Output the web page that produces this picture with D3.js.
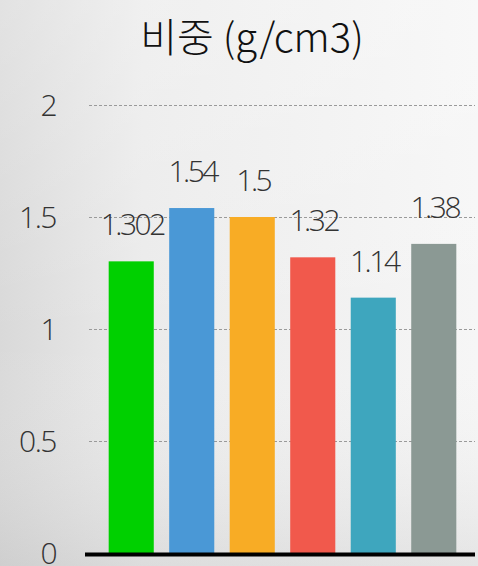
<!DOCTYPE html>
<html><head><meta charset="utf-8">
<script src="https://cdn.jsdelivr.net/npm/d3@7"></script>
<style>html,body{margin:0;padding:0;overflow:hidden;}svg{display:block;}</style>
</head><body><svg id="c" width="478" height="566"></svg>
<script>
const categories = ["A","B","C","D","E","F"];
const values = [1.302, 1.54, 1.5, 1.32, 1.14, 1.38];
const valueLabels = ["1.302","1.54","1.5","1.32","1.14","1.38"];
const colors = ["#00d000","#4a98d6","#f8ac25","#f1594c","#3ea6be","#8b9994"];
const yTicks = [0, 0.5, 1, 1.5, 2];
const title = "비중 (g/cm3)";

const svg = d3.select("#c");
const defs = svg.append("defs");
const g1 = defs.append("linearGradient").attr("id","bg").attr("x1","0").attr("x2","1").attr("y1","0").attr("y2","0");
g1.append("stop").attr("offset","0").attr("stop-color","#d9d9d9");
g1.append("stop").attr("offset","0.3").attr("stop-color","#ebebeb");
g1.append("stop").attr("offset","1").attr("stop-color","#f6f6f6");
const g2 = defs.append("linearGradient").attr("id","bg2").attr("x1","0").attr("x2","0").attr("y1","0").attr("y2","1");
g2.append("stop").attr("offset","0").attr("stop-color","#ffffff").attr("stop-opacity",0.25);
g2.append("stop").attr("offset","0.6").attr("stop-color","#ffffff").attr("stop-opacity",0);
g2.append("stop").attr("offset","1").attr("stop-color","#b0b0b0").attr("stop-opacity",0.25);
svg.append("rect").attr("width",478).attr("height",566).attr("fill","url(#bg)");
svg.append("rect").attr("width",478).attr("height",566).attr("fill","url(#bg2)");

const y = d3.scaleLinear().domain([0,2]).range([553,105]);
const x = d3.scaleBand().domain(categories).range([101,464]).paddingInner(0.255).paddingOuter(0.127);

const grid = svg.append("g").attr("transform","translate(89,0)")
  .call(d3.axisLeft(y).tickValues(yTicks).tickSize(-386).tickFormat(""));
grid.select(".domain").remove();
grid.selectAll(".tick line").attr("stroke","#9a9a9a").attr("stroke-dasharray","3,2").attr("stroke-width",1);

const yl = svg.append("g").attr("transform","translate(56,0)")
  .call(d3.axisLeft(y).tickValues(yTicks).tickSize(0).tickPadding(0).tickFormat(d3.format("")));
yl.select(".domain").remove();
yl.selectAll("text").attr("font-family","'Open Sans', sans-serif").attr("font-weight",300).attr("font-size",30).attr("letter-spacing","-1.5px")
  .attr("fill","#333").attr("dy","0.36em");

svg.append("g").selectAll("rect").data(values).join("rect")
  .attr("x",(d,i)=>x(categories[i])).attr("width",x.bandwidth())
  .attr("y",d=>y(d)).attr("height",d=>y(0)-y(d)).attr("fill",(d,i)=>colors[i]);

svg.append("line").attr("x1",85).attr("x2",475).attr("y1",y(0)+1.5).attr("y2",y(0)+1.5).attr("stroke","#000").attr("stroke-width",4);

svg.append("g").selectAll("text").data(values).join("text")
  .attr("x",(d,i)=>x(categories[i])+x.bandwidth()/2+1).attr("y",d=>y(d)-26)
  .attr("text-anchor","middle").attr("font-family","'Open Sans', sans-serif").attr("font-weight",300).attr("font-size",30)
  .attr("letter-spacing","-2.5px").attr("fill","#333").text((d,i)=>valueLabels[i]);

svg.append("text").attr("x",252).attr("y",52).attr("text-anchor","middle")
  .attr("font-family","'Noto Sans CJK KR', sans-serif").attr("font-weight",300).attr("font-size",40).attr("fill","#111").text(title);
</script></body></html>
